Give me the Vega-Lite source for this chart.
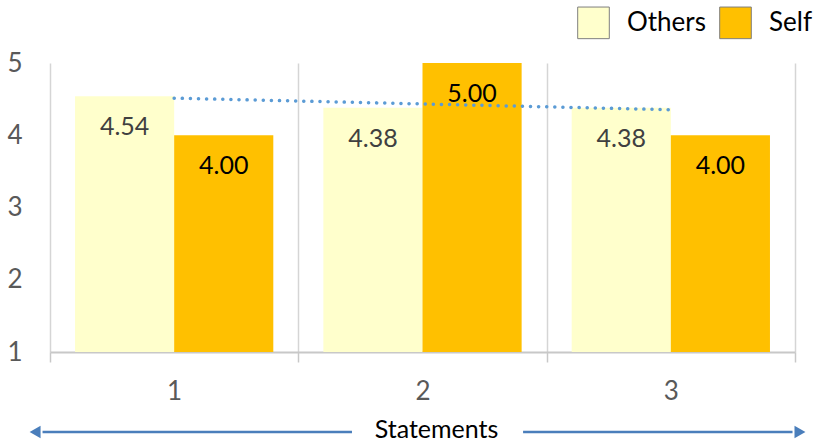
{
  "$schema": "https://vega.github.io/schema/vega-lite/v6.json",
  "width": 745,
  "height": 289,
  "autosize": {"type": "none"},
  "padding": {"left": 50, "top": 63, "right": 23, "bottom": 90},
  "background": "white",
  "config": {
    "font": "Lato",
    "view": {"stroke": null}
  },
  "datasets": {
    "scores": [
      {"statement": 1, "series": "Others", "score": 4.54},
      {"statement": 1, "series": "Self", "score": 4.0},
      {"statement": 2, "series": "Others", "score": 4.38},
      {"statement": 2, "series": "Self", "score": 5.0},
      {"statement": 3, "series": "Others", "score": 4.38},
      {"statement": 3, "series": "Self", "score": 4.0}
    ],
    "arrows": [
      {"dir": "left", "from": 1.716, "to": 0.47, "tip": 0.44, "level": -0.107},
      {"dir": "right", "from": 2.405, "to": 3.49, "tip": 3.52, "level": -0.107}
    ]
  },
  "layer": [
    {
      "data": {"name": "scores"},
      "layer": [
        {
          "mark": {"type": "bar"},
          "encoding": {
            "x": {
              "field": "statement",
              "type": "ordinal",
              "scale": {"paddingInner": 0, "paddingOuter": 0},
              "axis": {
                "title": "Statements",
                "titleFontSize": 25,
                "titleFontWeight": "normal",
                "titleColor": "#000000",
                "titlePadding": 13,
                "titleX": 386,
                "labelAngle": 0,
                "labelFontSize": 26,
                "labelColor": "#595959",
                "labelPadding": 16,
                "tickBand": "extent",
                "tickSize": 10,
                "tickColor": "#C8C8C8",
                "tickWidth": 1.5,
                "domainColor": "#C8C8C8",
                "domainWidth": 2,
                "grid": true,
                "gridColor": "#D5D5D5",
                "gridWidth": 1.5
              }
            },
            "xOffset": {
              "field": "series",
              "type": "nominal",
              "scale": {"paddingInner": 0, "paddingOuter": 0.2525}
            },
            "y": {
              "field": "score",
              "type": "quantitative",
              "scale": {"domain": [1, 5], "zero": false, "nice": false},
              "axis": {
                "title": null,
                "values": [1, 2, 3, 4, 5],
                "format": "d",
                "labelFontSize": 26,
                "labelColor": "#595959",
                "labelPadding": 28,
                "ticks": false,
                "domain": false,
                "grid": false
              }
            },
            "y2": {"datum": 1},
            "color": {
              "field": "series",
              "type": "nominal",
              "scale": {"domain": ["Others", "Self"], "range": ["#FFFFCC", "#FFC000"]},
              "legend": {
                "title": null,
                "orient": "none",
                "legendX": 527,
                "legendY": -57,
                "direction": "horizontal",
                "symbolType": "square",
                "symbolSize": 1000,
                "symbolStrokeColor": "#7F7F7F",
                "symbolStrokeWidth": 1,
                "symbolOpacity": 1,
                "labelFontSize": 26,
                "labelColor": "#000000",
                "labelOffset": 17,
                "columnPadding": 11,
                "padding": 0
              }
            }
          }
        },
        {
          "mark": {"type": "text", "baseline": "middle", "align": "center", "fontSize": 25, "dy": 31},
          "encoding": {
            "x": {"field": "statement", "type": "ordinal"},
            "xOffset": {"field": "series", "type": "nominal"},
            "y": {"field": "score", "type": "quantitative"},
            "text": {"field": "score", "type": "quantitative", "format": ".2f"},
            "color": {
              "condition": {"test": "datum.series === 'Others'", "value": "#404040"},
              "value": "#000000"
            }
          }
        },
        {
          "transform": [
            {"filter": "datum.series === 'Others'"},
            {"regression": "score", "on": "statement", "method": "linear"}
          ],
          "mark": {
            "type": "line",
            "color": "#5B9BD5",
            "strokeWidth": 3.5,
            "strokeCap": "round",
            "strokeDash": [0.1, 8]
          },
          "encoding": {
            "x": {"field": "statement", "type": "ordinal"},
            "y": {"field": "score", "type": "quantitative"}
          }
        }
      ]
    },
    {
      "data": {"name": "arrows"},
      "layer": [
        {
          "mark": {"type": "rule", "color": "#4A7EBB", "strokeWidth": 2.5},
          "encoding": {
            "x": {"field": "from", "type": "quantitative", "scale": {"domain": [0.5, 3.5], "nice": false, "zero": false}, "axis": null},
            "x2": {"field": "to"},
            "y": {"field": "level", "type": "quantitative", "scale": {"domain": [1, 5], "zero": false, "nice": false}}
          }
        },
        {
          "mark": {"type": "point", "filled": true, "opacity": 1, "color": "#4A7EBB", "size": 160},
          "encoding": {
            "x": {"field": "tip", "type": "quantitative", "axis": null},
            "y": {"field": "level", "type": "quantitative"},
            "shape": {
              "field": "dir",
              "type": "nominal",
              "scale": {"domain": ["left", "right"], "range": ["triangle-left", "triangle-right"]},
              "legend": null
            }
          }
        }
      ]
    }
  ],
  "resolve": {"scale": {"x": "independent"}, "axis": {"x": "independent"}}
}
